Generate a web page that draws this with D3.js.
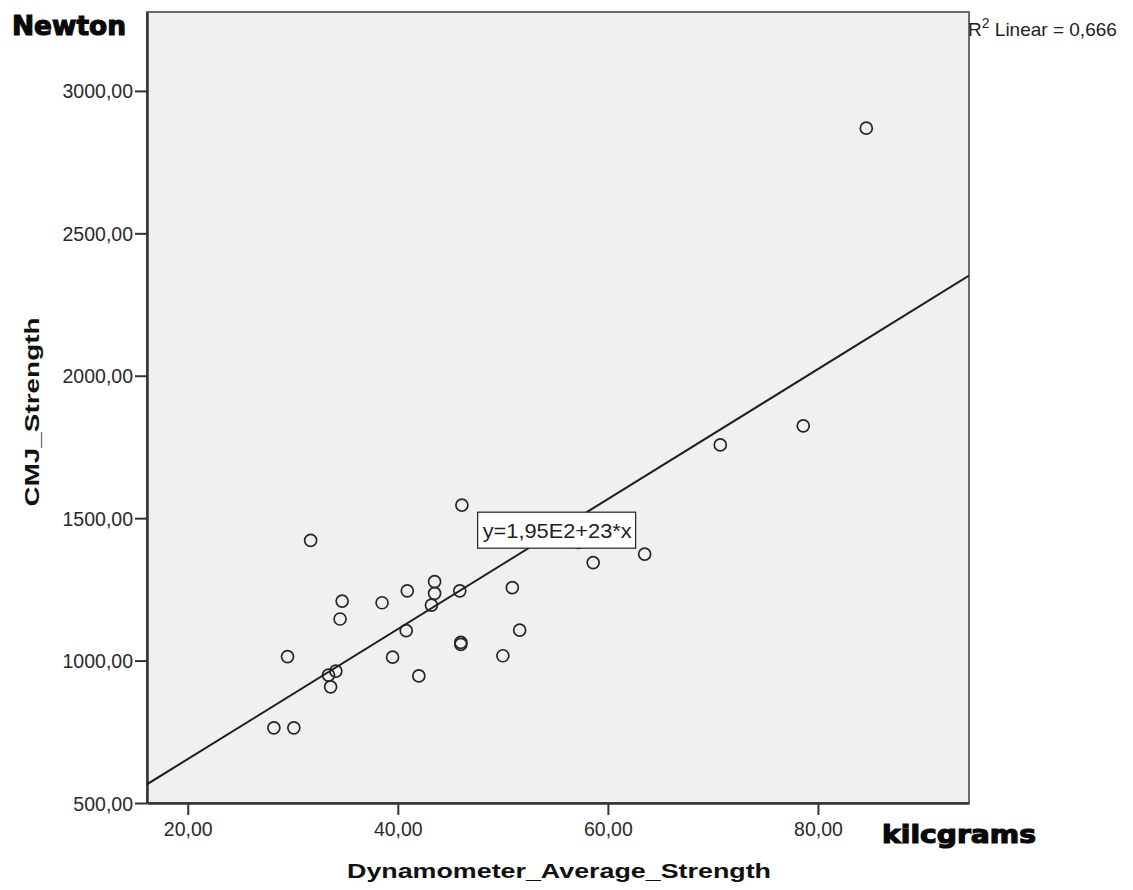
<!DOCTYPE html>
<html>
<head>
<meta charset="utf-8">
<script src="https://cdn.jsdelivr.net/npm/d3@7"></script>
<style>
  html, body { margin: 0; padding: 0; background: #ffffff; }
  svg { display: block; }
</style>
</head>
<body>
<script>
// ---- data ----
const dynamometer = [46.1, 31.7, 43.5, 40.9, 45.9, 50.9, 43.5, 34.7, 38.5, 43.2, 34.5, 40.8, 51.6, 46.0, 46.0, 29.5, 39.5, 50.0, 34.1, 33.4, 42.0, 33.6, 28.2, 30.1, 57.2, 58.6, 63.5, 84.6, 78.6, 70.7];
const cmj = [1546, 1422, 1277, 1245, 1245, 1256, 1236, 1209, 1203, 1195, 1146, 1105, 1107, 1064, 1057, 1014, 1012, 1017, 963, 949, 946, 908, 764, 764, 1415, 1344, 1374, 2869, 1824, 1757];
const xTicks = [20, 40, 60, 80];
const yTicks = [500, 1000, 1500, 2000, 2500, 3000];
const xDomain = [16.12, 94.38];
const yDomain = [500, 3277];
const fitIntercept = 197.8;
const fitSlope = 22.82;
const fitLabel = "y=1,95E2+23*x";
const labelAnchor = [47.6, 1521];
const r2Text = "Linear = 0,666";

// ---- layout ----
const W = 1133, H = 890;
const mL = 147, mR = 969, mT = 12, mB = 803;

const svg = d3.select("body").append("svg").attr("width", W).attr("height", H);
svg.append("rect").attr("width", W).attr("height", H).attr("fill", "#ffffff");

const x = d3.scaleLinear().domain(xDomain).range([mL, mR]);
const y = d3.scaleLinear().domain(yDomain).range([mB, mT]);
const fmt = d => d3.format(".2f")(d).replace(".", ",");

// plot background
svg.append("rect").attr("x", mL).attr("y", mT).attr("width", mR - mL).attr("height", mB - mT)
  .attr("fill", "#f0f0f0").attr("stroke", "#6a6a6a").attr("stroke-width", 2);

const clipId = "plotclip";
svg.append("clipPath").attr("id", clipId).append("rect")
  .attr("x", mL).attr("y", mT).attr("width", mR - mL).attr("height", mB - mT);

// axes
const xAxis = svg.append("g").attr("transform", `translate(0,${mB})`)
  .call(d3.axisBottom(x).tickValues(xTicks).tickFormat(fmt).tickSize(12).tickSizeOuter(0).tickPadding(7));
const yAxis = svg.append("g").attr("transform", `translate(${mL},0)`)
  .call(d3.axisLeft(y).tickValues(yTicks).tickFormat(fmt).tickSize(12).tickSizeOuter(0).tickPadding(2));
[xAxis, yAxis].forEach(g => {
  g.select(".domain").attr("stroke", "#333").attr("stroke-width", 2.5);
  g.selectAll(".tick line").attr("stroke", "#333").attr("stroke-width", 2);
  g.selectAll(".tick text").attr("fill", "#2a2a2a")
    .style("font-family", "'Liberation Sans', Arial, sans-serif").style("font-size", "19.5px");
});
yAxis.selectAll(".tick text").attr("dy", "0.36em");

// points
svg.append("g").attr("clip-path", `url(#${clipId})`)
  .selectAll("circle").data(dynamometer.map((d, i) => [d, cmj[i]])).join("circle")
  .attr("cx", d => x(d[0])).attr("cy", d => y(d[1])).attr("r", 6)
  .attr("fill", "none").attr("stroke", "#262626").attr("stroke-width", 1.7);

// fit line
svg.append("line").attr("clip-path", `url(#${clipId})`)
  .attr("x1", x(xDomain[0])).attr("y1", y(fitIntercept + fitSlope * xDomain[0]))
  .attr("x2", x(xDomain[1])).attr("y2", y(fitIntercept + fitSlope * xDomain[1]))
  .attr("stroke", "#1e1e1e").attr("stroke-width", 2);

// fit label
const lg = svg.append("g").attr("transform", `translate(${x(labelAnchor[0])},${y(labelAnchor[1])})`);
lg.append("rect").attr("x", 0).attr("y", 0).attr("width", 158).attr("height", 36)
  .attr("fill", "#ffffff").attr("stroke", "#222").attr("stroke-width", 1.2);
lg.append("text").attr("x", 5).attr("y", 26).text(fitLabel)
  .attr("fill", "#222").style("font-family", "'Liberation Sans', Arial, sans-serif").style("font-size", "21px")
  .attr("textLength", 149).attr("lengthAdjust", "spacingAndGlyphs");

// R2 annotation
const r2 = svg.append("text").attr("x", 968).attr("y", 36).attr("fill", "#222")
  .style("font-family", "'Liberation Sans', Arial, sans-serif").style("font-size", "19px");
r2.append("tspan").text("R");
r2.append("tspan").text("2").attr("dy", -8).style("font-size", "14px");
r2.append("tspan").text(" " + r2Text).attr("dy", 8);

// axis titles
svg.append("text").attr("x", 559).attr("y", 878).attr("text-anchor", "middle").text("Dynamometer_Average_Strength")
  .attr("fill", "#111").style("font-family", "'Liberation Sans', Arial, sans-serif").style("font-size", "21px")
  .style("font-weight", "bold").attr("textLength", 424).attr("lengthAdjust", "spacingAndGlyphs");
svg.append("text").attr("transform", "translate(39,412) rotate(-90)").attr("text-anchor", "middle").text("CMJ_Strength")
  .attr("fill", "#111").style("font-family", "'Liberation Sans', Arial, sans-serif").style("font-size", "21px")
  .style("font-weight", "bold").attr("textLength", 189).attr("lengthAdjust", "spacingAndGlyphs");

// unit labels
svg.append("text").attr("x", 12).attr("y", 35).text("Newton")
  .attr("fill", "#0a0a0a").attr("stroke", "#0a0a0a").attr("stroke-width", 1.2)
  .style("font-family", "'DejaVu Sans', sans-serif").style("font-size", "27px").style("font-weight", "bold")
  .attr("textLength", 114).attr("lengthAdjust", "spacingAndGlyphs");
svg.append("text").attr("x", 882).attr("y", 843).text("kilcgrams")
  .attr("fill", "#0a0a0a").attr("stroke", "#0a0a0a").attr("stroke-width", 1.2)
  .style("font-family", "'DejaVu Sans', sans-serif").style("font-size", "25px").style("font-weight", "bold")
  .attr("textLength", 154).attr("lengthAdjust", "spacingAndGlyphs");
</script>
</body>
</html>
